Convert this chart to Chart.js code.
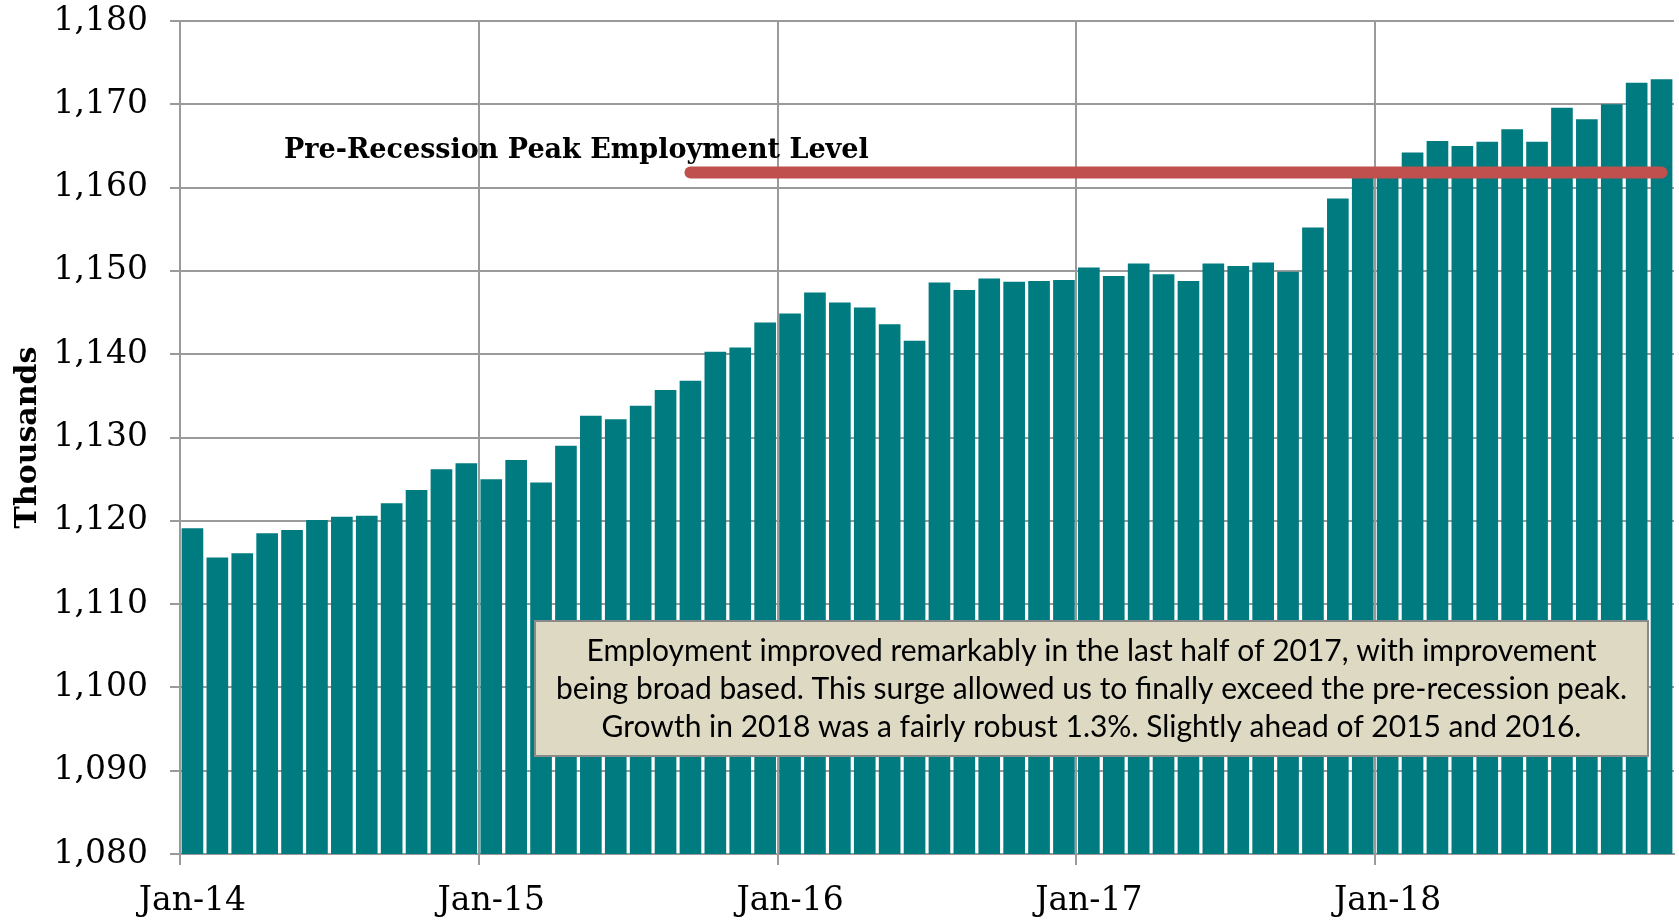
<!DOCTYPE html>
<html>
<head>
<meta charset="utf-8">
<script src="https://cdn.jsdelivr.net/npm/chart.js@4.4.1/dist/chart.umd.min.js"></script>
<style>
  html, body { margin: 0; padding: 0; background: #fff; overflow: hidden; }
  #wrap { width: 1679px; height: 920px; }
</style>
</head>
<body>
<div id="wrap"><canvas id="chart"></canvas></div>
<script>
const months = [
  'Jan-14','Feb-14','Mar-14','Apr-14','May-14','Jun-14','Jul-14','Aug-14','Sep-14','Oct-14','Nov-14','Dec-14',
  'Jan-15','Feb-15','Mar-15','Apr-15','May-15','Jun-15','Jul-15','Aug-15','Sep-15','Oct-15','Nov-15','Dec-15',
  'Jan-16','Feb-16','Mar-16','Apr-16','May-16','Jun-16','Jul-16','Aug-16','Sep-16','Oct-16','Nov-16','Dec-16',
  'Jan-17','Feb-17','Mar-17','Apr-17','May-17','Jun-17','Jul-17','Aug-17','Sep-17','Oct-17','Nov-17','Dec-17',
  'Jan-18','Feb-18','Mar-18','Apr-18','May-18','Jun-18','Jul-18','Aug-18','Sep-18','Oct-18','Nov-18','Dec-18'
]

// employment, thousands
const employment = [
  1119.1, 1115.6, 1116.1, 1118.5, 1118.9, 1120.1, 1120.5, 1120.6, 1122.1, 1123.7, 1126.2, 1126.9,
  1125.0, 1127.3, 1124.6, 1129.0, 1132.6, 1132.2, 1133.8, 1135.7, 1136.8, 1140.3, 1140.8, 1143.8,
  1144.9, 1147.4, 1146.2, 1145.6, 1143.6, 1141.6, 1148.6, 1147.7, 1149.1, 1148.7, 1148.8, 1148.9,
  1150.4, 1149.4, 1150.9, 1149.6, 1148.8, 1150.9, 1150.6, 1151.0, 1149.9, 1155.2, 1158.7, 1161.3,
  1162.0, 1164.2, 1165.6, 1165.0, 1165.5, 1167.0, 1165.5, 1169.6, 1168.2, 1170.0, 1172.6, 1173.0
]

const peakLevel = 1161.8
const peakFrom = 'Sep-15'
const peakLabel = 'Pre-Recession Peak Employment Level'

const noteLines = [
  'Employment improved remarkably in the last half of 2017, with improvement',
  'being broad based. This surge allowed us to finally exceed the pre-recession peak.',
  'Growth in 2018 was a fairly robust 1.3%. Slightly ahead of 2015 and 2016.'
]

const peakStart = months.indexOf(peakFrom)
const peakLine = months.map((m, i) => i >= peakStart ? peakLevel : null)

const gridGrey = '#9a9a9a'
const serif = 'DejaVu Serif'

// text on top of everything (label + note box)
const annotations = {
  id: 'annotations',
  afterDraw(chart) {
    const { ctx } = chart
    ctx.save()
    ctx.fillStyle = '#000'
    ctx.textBaseline = 'alphabetic'
    ctx.font = 'bold 27px "DejaVu Serif"'
    ctx.textAlign = 'left'
    ctx.fillText(peakLabel, 284, 158)

    ctx.fillStyle = '#DDD9C3'
    ctx.fillRect(535, 621, 1113, 135)
    ctx.strokeStyle = '#8a8a8a'
    ctx.lineWidth = 2
    ctx.strokeRect(535, 621, 1113, 135)

    ctx.fillStyle = '#000'
    ctx.font = '30px Lato'
    ctx.textAlign = 'center'
    noteLines.forEach((t, i) => ctx.fillText(t, 1091.5, 661 + i * 38))
    ctx.restore()
  }
}

new Chart(document.getElementById('chart'), {
  data: {
    labels: months,
    datasets: [
      {
        type: 'line',
        data: peakLine,
        borderColor: '#C0504D',
        borderWidth: 12,
        borderCapStyle: 'round',
        pointRadius: 0,
        order: 0
      },
      {
        type: 'bar',
        data: employment,
        backgroundColor: '#007C80',
        categoryPercentage: 1,
        barPercentage: 0.87,
        order: 1
      }
    ]
  },
  options: {
    responsive: true,
    maintainAspectRatio: false,
    animation: false,
    layout: { padding: { top: 21, right: 5, left: 0, bottom: 0 } },
    plugins: {
      legend: { display: false },
      tooltip: { enabled: false }
    },
    scales: {
      x: {
        offset: true,
        z: 1,
        grid: {
          offset: true,
          lineWidth: 2,
          tickLength: 11,
          color: c => c.index % 12 === 0 ? gridGrey : 'rgba(0,0,0,0)'
        },
        border: { color: gridGrey, width: 2 },
        ticks: {
          autoSkip: false,
          maxRotation: 0,
          padding: 17,
          color: '#000',
          font: { family: serif, size: 33 },
          callback: (v, i) => months[i].startsWith('Jan') ? months[i] : ''
        },
        afterFit: s => { s.height = 66 }
      },
      y: {
        min: 1080,
        max: 1180,
        z: 1,
        grid: { color: gridGrey, lineWidth: 2, tickLength: 10 },
        border: { color: gridGrey, width: 2 },
        ticks: {
          stepSize: 10,
          padding: 22,
          color: '#000',
          font: { family: serif, size: 33 },
          callback: v => v.toLocaleString('en-US')
        },
        title: {
          display: true,
          text: 'Thousands',
          color: '#000',
          font: { family: serif, size: 30, weight: 'bold' },
          padding: { top: 10, bottom: 0 }
        },
        afterFit: s => {
          s.width = 180
          s.paddingTop = 0
          s.paddingBottom = 0
        }
      }
    }
  },
  plugins: [annotations]
})
</script>
</body>
</html>
